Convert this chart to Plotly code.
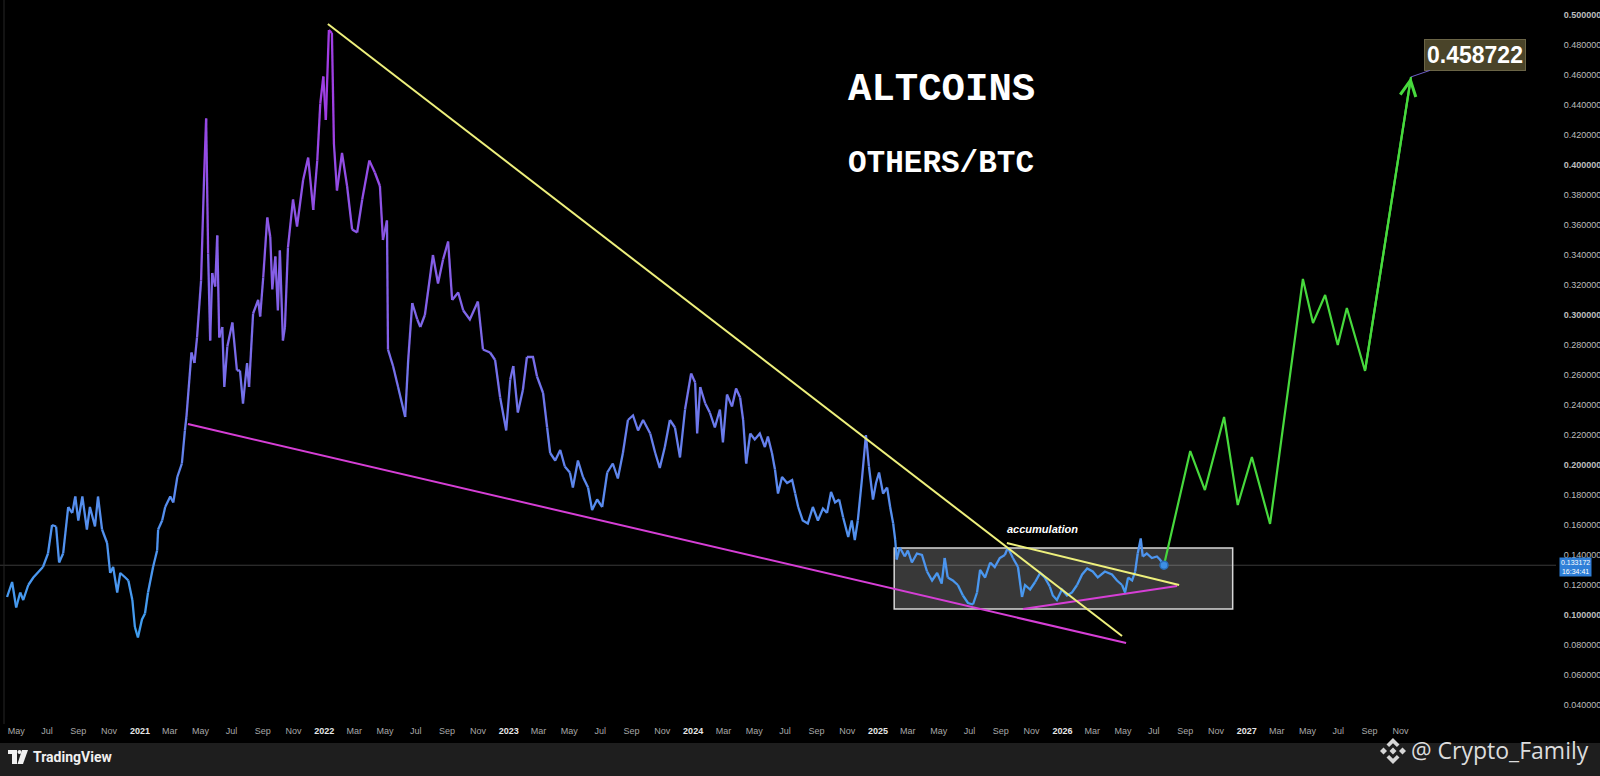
import plotly.graph_objects as go
import pandas as pd

# ---------------- data ----------------
START_DATE = "2020-04-01"

# OTHERS/BTC history: days after START_DATE and ratio values
price_days = [12, 22, 30, 38, 44, 54, 64, 83, 93, 101, 109, 115, 123, 133, 141, 147, 153, 161, 170, 176,
              186, 192, 200, 210, 216, 222, 230, 236, 246, 252, 260, 265, 271, 279, 285, 291, 301, 309, 311, 319,
              325, 335, 341, 349, 358, 364, 367, 377, 383, 388, 396, 402, 406, 410, 414, 418, 424, 428, 432, 438,
              442, 448, 458, 467, 473, 479, 487, 491, 499, 509, 513, 519, 527, 533, 537, 543, 548, 552, 558, 562,
              568, 578, 586, 598, 608, 618, 626, 632, 638, 643, 649, 655, 659, 665, 675, 685, 695, 705, 715, 729,
              740, 750, 756, 764, 766, 776, 786, 800, 806, 814, 824, 830, 839, 855, 865, 875, 885, 893, 905, 915,
              928, 944, 954, 968, 978, 988, 1000, 1008, 1014, 1023, 1033, 1041, 1053, 1061, 1073, 1081, 1087, 1097, 1107, 1116,
              1126, 1132, 1142, 1152, 1162, 1170, 1180, 1190, 1200, 1211, 1221, 1231, 1241, 1251, 1261, 1271, 1285, 1295, 1304, 1314,
              1324, 1334, 1344, 1354, 1366, 1374, 1378, 1384, 1394, 1403, 1413, 1423, 1429, 1437, 1447, 1455, 1463, 1469, 1475, 1483,
              1492, 1502, 1512, 1518, 1526, 1532, 1538, 1546, 1556, 1566, 1572, 1578, 1587, 1597, 1607, 1617, 1627, 1635, 1643, 1651,
              1659, 1667, 1677, 1684, 1690, 1696, 1704, 1712, 1718, 1726, 1732, 1738, 1746, 1754, 1760, 1766, 1770, 1773, 1779, 1789,
              1795, 1803, 1813, 1823, 1833, 1843, 1853, 1862, 1868, 1874, 1884, 1894, 1904, 1914, 1924, 1932, 1938, 1948, 1958, 1967,
              1977, 1987, 1993, 2003, 2013, 2021, 2027, 2037, 2047, 2057, 2066, 2076, 2082, 2090, 2100, 2110, 2120, 2130, 2140, 2150,
              2161, 2171, 2185, 2199, 2209, 2219, 2225, 2231, 2239, 2245, 2250, 2256, 2260, 2268, 2278, 2288, 2294, 2302]
price_values = [0.112, 0.122, 0.105, 0.115, 0.110, 0.120, 0.125, 0.132, 0.141, 0.160, 0.159, 0.135, 0.141, 0.172, 0.168, 0.179, 0.163, 0.179, 0.157, 0.172,
                0.159, 0.179, 0.157, 0.148, 0.128, 0.132, 0.115, 0.128, 0.125, 0.123, 0.110, 0.092, 0.085, 0.097, 0.101, 0.115, 0.132, 0.143, 0.157, 0.163,
                0.172, 0.179, 0.175, 0.192, 0.201, 0.223, 0.232, 0.275, 0.268, 0.285, 0.323, 0.392, 0.431, 0.341, 0.283, 0.328, 0.319, 0.353, 0.285, 0.292,
                0.252, 0.279, 0.295, 0.263, 0.263, 0.241, 0.268, 0.252, 0.301, 0.310, 0.299, 0.325, 0.365, 0.352, 0.317, 0.339, 0.303, 0.343, 0.283, 0.292,
                0.345, 0.377, 0.359, 0.390, 0.405, 0.370, 0.403, 0.441, 0.459, 0.430, 0.490, 0.488, 0.414, 0.383, 0.408, 0.386, 0.357, 0.355, 0.377, 0.403,
                0.395, 0.386, 0.350, 0.363, 0.277, 0.266, 0.252, 0.232, 0.270, 0.308, 0.297, 0.292, 0.300, 0.340, 0.321, 0.337, 0.349, 0.310, 0.315, 0.303,
                0.297, 0.309, 0.277, 0.275, 0.270, 0.245, 0.223, 0.257, 0.266, 0.235, 0.250, 0.272, 0.272, 0.259, 0.248, 0.225, 0.208, 0.203, 0.210, 0.199,
                0.195, 0.185, 0.203, 0.192, 0.185, 0.170, 0.177, 0.172, 0.195, 0.201, 0.191, 0.208, 0.230, 0.233, 0.223, 0.230, 0.221, 0.208, 0.198, 0.212,
                0.230, 0.225, 0.205, 0.237, 0.261, 0.255, 0.221, 0.252, 0.241, 0.235, 0.225, 0.237, 0.215, 0.247, 0.239, 0.251, 0.245, 0.230, 0.201, 0.221,
                0.217, 0.221, 0.212, 0.219, 0.208, 0.197, 0.181, 0.192, 0.188, 0.190, 0.181, 0.172, 0.163, 0.161, 0.172, 0.163, 0.171, 0.168, 0.182, 0.175,
                0.177, 0.165, 0.152, 0.163, 0.150, 0.163, 0.190, 0.220, 0.199, 0.177, 0.188, 0.195, 0.181, 0.185, 0.172, 0.161, 0.150, 0.137, 0.145, 0.139,
                0.143, 0.135, 0.141, 0.140, 0.129, 0.123, 0.128, 0.121, 0.138, 0.125, 0.123, 0.120, 0.113, 0.108, 0.107, 0.115, 0.130, 0.125, 0.135, 0.132,
                0.138, 0.140, 0.145, 0.138, 0.132, 0.112, 0.120, 0.117, 0.122, 0.128, 0.125, 0.119, 0.113, 0.110, 0.117, 0.113, 0.115, 0.120, 0.127, 0.131,
                0.129, 0.125, 0.129, 0.127, 0.123, 0.120, 0.115, 0.125, 0.123, 0.129, 0.141, 0.151, 0.139, 0.141, 0.138, 0.139, 0.137, 0.1332]

# projected path (green)
proj_days = [2302, 2354, 2383, 2421, 2448, 2476, 2512, 2577, 2597, 2621, 2646, 2664, 2700, 2791]
proj_values = [0.1332, 0.2093, 0.1833, 0.2320, 0.1733, 0.2053, 0.1607, 0.3240, 0.2947, 0.3133, 0.2800, 0.3047, 0.2627, 0.458722]

# trendlines
upper_trend_days = [647, 2219]
upper_trend_values = [0.494, 0.086]
lower_trend_days = [370, 2227]
lower_trend_values = [0.2273, 0.0813]
apex_upper_days = [1991, 2332]
apex_upper_values = [0.148, 0.120]
apex_lower_days = [2023, 2328]
apex_lower_values = [0.104, 0.1193]

# accumulation range
box_days = [1768, 2438]
box_values = [0.104, 0.1447]

last_price = 0.133172
last_countdown = "16:34:41"
target_price = 0.458722

y_tick_values = [0.04, 0.06, 0.08, 0.10, 0.12, 0.14, 0.16, 0.18, 0.20, 0.22, 0.24, 0.26,
                 0.28, 0.30, 0.32, 0.34, 0.36, 0.38, 0.40, 0.42, 0.44, 0.46, 0.48, 0.50]
month_names = ["Jan", "Feb", "Mar", "Apr", "May", "Jun", "Jul", "Aug", "Sep", "Oct", "Nov", "Dec"]

# ---------------- helpers ----------------
t0 = pd.Timestamp(START_DATE)


def to_dates(days):
    return [(t0 + pd.Timedelta(days=d)).strftime("%Y-%m-%d") for d in days]


PLOT_W, PLOT_H = 1556, 724
FIG_W, FIG_H = 1600, 776


def px(x):
    return x / PLOT_W


def py(y):
    return (PLOT_H - y) / PLOT_H


price_dates = to_dates(price_days)

# gradient colouring (TradingView style: blue low -> purple high)
stops = [(0.08, (62, 160, 240)), (0.18, (88, 140, 238)), (0.26, (118, 112, 234)),
         (0.36, (140, 86, 230)), (0.49, (166, 54, 226))]


def colour_for(v):
    if v <= stops[0][0]:
        c = stops[0][1]
    elif v >= stops[-1][0]:
        c = stops[-1][1]
    else:
        for (v0, c0), (v1, c1) in zip(stops[:-1], stops[1:]):
            if v0 <= v <= v1:
                t = (v - v0) / (v1 - v0)
                c = tuple(int(round(a + (b - a) * t)) for a, b in zip(c0, c1))
                break
    return "rgb(%d,%d,%d)" % c


NBINS = 40
vmin, vmax = 0.08, 0.49


def bin_of(v):
    t = (v - vmin) / (vmax - vmin)
    return max(0, min(NBINS - 1, int(t * NBINS)))


runs = {}
cur = None
for i in range(len(price_values) - 1):
    b = bin_of((price_values[i] + price_values[i + 1]) / 2)
    xs, ys = runs.setdefault(b, ([], []))
    if b != cur:
        if xs:
            xs.append(None)
            ys.append(None)
        xs.append(price_dates[i])
        ys.append(price_values[i])
    xs.append(price_dates[i + 1])
    ys.append(price_values[i + 1])
    cur = b

fig = go.Figure()

# trendlines
fig.add_trace(go.Scatter(x=to_dates(lower_trend_days), y=lower_trend_values, mode="lines",
                         line=dict(color="#d63fd6", width=2), hoverinfo="skip", showlegend=False))
fig.add_trace(go.Scatter(x=to_dates(apex_lower_days), y=apex_lower_values, mode="lines",
                         line=dict(color="#d63fd6", width=2), hoverinfo="skip", showlegend=False))

for b in sorted(runs):
    xs, ys = runs[b]
    mid = vmin + (b + 0.5) * (vmax - vmin) / NBINS
    fig.add_trace(go.Scatter(x=xs, y=ys, mode="lines", line=dict(color=colour_for(mid), width=2.3),
                             hoverinfo="skip", showlegend=False, connectgaps=False))

fig.add_trace(go.Scatter(x=to_dates(upper_trend_days), y=upper_trend_values, mode="lines",
                         line=dict(color="#eef07c", width=2), hoverinfo="skip", showlegend=False))
fig.add_trace(go.Scatter(x=to_dates(apex_upper_days), y=apex_upper_values, mode="lines",
                         line=dict(color="#eef07c", width=2), hoverinfo="skip", showlegend=False))

# projection
proj_dates = to_dates(proj_days)
fig.add_trace(go.Scatter(x=proj_dates, y=proj_values, mode="lines",
                         line=dict(color="#47d93d", width=2.2), hoverinfo="skip", showlegend=False))

# last price marker
fig.add_trace(go.Scatter(x=[price_dates[-1]], y=[price_values[-1]], mode="markers",
                         marker=dict(size=8, color="#3d8fe6", line=dict(color="#2a6db8", width=1.5)),
                         hoverinfo="skip", showlegend=False))

# ---------------- shapes ----------------
box_dates = to_dates(box_days)
shapes = [
    dict(type="rect", xref="x", yref="y", x0=box_dates[0], x1=box_dates[1], y0=box_values[0], y1=box_values[1],
         fillcolor="rgba(255,255,255,0.22)", line=dict(color="#d8d8d8", width=1.5), layer="below"),
    dict(type="line", xref="paper", yref="y", x0=0, x1=1, y0=last_price, y1=last_price,
         line=dict(color="#3a3a3a", width=1), layer="below"),
    dict(type="line", xref="paper", yref="paper", x0=px(4), x1=px(4), y0=0, y1=1,
         line=dict(color="#262626", width=1), layer="below"),
    # footer band
    dict(type="rect", xref="paper", yref="paper", x0=px(0), x1=px(FIG_W), y0=py(743), y1=py(FIG_H),
         fillcolor="#1e1e1e", line=dict(width=0), layer="below"),
]


def poly(points):
    return "M " + " L ".join("%f,%f" % (px(a), py(b)) for a, b in points) + " Z"


# Binance-style logo beside the watermark
cx, cy, s = 1393, 751, 13
logo_polys = [
    [(0, 0.27), (0.27, 0), (0, -0.27), (-0.27, 0)],
    [(-0.73, 0.27), (-0.46, 0), (-0.73, -0.27), (-1.0, 0)],
    [(0.73, 0.27), (1.0, 0), (0.73, -0.27), (0.46, 0)],
    [(0, 1.0), (0.5, 0.5), (0.3, 0.3), (0, 0.6), (-0.3, 0.3), (-0.5, 0.5)],
    [(0, -1.0), (0.5, -0.5), (0.3, -0.3), (0, -0.6), (-0.3, -0.3), (-0.5, -0.5)],
]
for pl in logo_polys:
    pts = [(cx + a * s, cy - b * s) for a, b in pl]
    shapes.append(dict(type="path", xref="paper", yref="paper", path=poly(pts),
                       fillcolor="#d6d6d6", line=dict(width=0)))

# TradingView logo glyph
tv_polys = [
    [(8, 750), (17, 750), (17, 754), (8, 754)],
    [(12, 754), (17, 754), (17, 764), (12, 764)],
    [(22, 750), (28, 750), (23, 764), (17.5, 764)],
]
for pl in tv_polys:
    shapes.append(dict(type="path", xref="paper", yref="paper", path=poly(pl),
                       fillcolor="#f0f0f0", line=dict(width=0)))
shapes.append(dict(type="circle", xref="paper", yref="paper", x0=px(17.5), x1=px(21.5), y0=py(750), y1=py(754),
                   fillcolor="#f0f0f0", line=dict(width=0)))

# ---------------- annotations ----------------
annotations = [
    dict(text="<b>ALTCOINS</b>", xref="paper", yref="paper", x=px(846), y=py(90), xanchor="left", yanchor="middle",
         showarrow=False, font=dict(family="Liberation Mono", size=39, color="#ffffff")),
    dict(text="<b>OTHERS/BTC</b>", xref="paper", yref="paper", x=px(846), y=py(164), xanchor="left", yanchor="middle",
         showarrow=False, font=dict(family="Liberation Mono", size=31, color="#ffffff")),
    dict(text="<b><i>accumulation</i></b>", xref="paper", yref="paper", x=px(1080), y=py(537),
         showarrow=False, font=dict(family="Liberation Sans", size=11, color="#ffffff")),
    # arrow head on the projection
    dict(x=proj_dates[-1], y=proj_values[-1], ax=proj_dates[-2], ay=proj_values[-2], xref="x", yref="y",
         axref="x", ayref="y", text="", showarrow=True, arrowhead=5, arrowsize=1.4, arrowwidth=2.2,
         arrowcolor="#47d93d", standoff=0),
    # target label
    dict(x=proj_dates[-1], y=target_price, xref="x", yref="y", text="<b>%.6f</b>" % target_price,
         showarrow=True, arrowhead=0, arrowwidth=1, arrowcolor="#6f5fc8", ax=64, ay=-22,
         font=dict(family="Liberation Sans", size=23, color="#ffffff"),
         bgcolor="#4a4429", bordercolor="#6a6446", borderwidth=1, borderpad=2),
    # last price label on the axis
    dict(x=1.0, y=last_price, xref="paper", yref="y", xanchor="left", yanchor="middle", xshift=3, yshift=-2,
         text="%.6f<br>%s" % (last_price, last_countdown), showarrow=False,
         font=dict(family="Liberation Sans", size=7, color="#ffffff"), bgcolor="#2f7fd8", borderpad=1),
    # footer texts
    dict(text="<b>TradingView</b>", xref="paper", yref="paper", x=px(31), y=py(757), xanchor="left",
         yanchor="middle", showarrow=False, font=dict(family="Roboto", size=14, color="#f0f0f0")),
    dict(text="@ Crypto_Family", xref="paper", yref="paper", x=px(1409), y=py(750), xanchor="left",
         yanchor="middle", showarrow=False, font=dict(family="Open Sans", size=23, color="#dcdcdc")),
]

# ---------------- axes ----------------
tick_dates = pd.date_range("2020-05-01", "2027-11-01", freq="2MS")
x_tickvals = [d.strftime("%Y-%m-%d") for d in tick_dates]
x_ticktext = [("<span style='color:#e6e6e6'><b>%d</b></span>" % d.year) if d.month == 1 else month_names[d.month - 1]
              for d in tick_dates]
y_ticktext = [("<b>%.6f</b>" % v) if abs(v * 10 - round(v * 10)) < 1e-9 else "%.6f" % v for v in y_tick_values]

x_range = [(t0 + pd.Timedelta(days=-2)).strftime("%Y-%m-%d"), (t0 + pd.Timedelta(days=3078)).strftime("%Y-%m-%d")]
y_range = [0.5 - (PLOT_H - 15) / 1500, 0.5 + 15 / 1500]

fig.update_layout(
    width=FIG_W, height=FIG_H,
    margin=dict(l=0, r=FIG_W - PLOT_W, t=0, b=FIG_H - PLOT_H),
    paper_bgcolor="#000000", plot_bgcolor="#000000",
    showlegend=False,
    shapes=shapes, annotations=annotations,
    xaxis=dict(type="date", range=x_range, showgrid=False, zeroline=False, showline=False,
               tickmode="array", tickvals=x_tickvals, ticktext=x_ticktext, ticks="",
               tickfont=dict(family="Liberation Sans", size=9, color="#a8a8a8"), fixedrange=True),
    yaxis=dict(range=y_range, side="right", showgrid=False, zeroline=False, showline=False,
               tickmode="array", tickvals=y_tick_values, ticktext=y_ticktext,
               ticks="outside", ticklen=5, tickcolor="rgba(0,0,0,0)",
               tickfont=dict(family="Liberation Sans", size=9, color="#bdbdbd"), fixedrange=True),
)

fig.write_html("out.html", config={"displayModeBar": False},
               post_script="document.body.style.margin='0';document.body.style.overflow='hidden';")
